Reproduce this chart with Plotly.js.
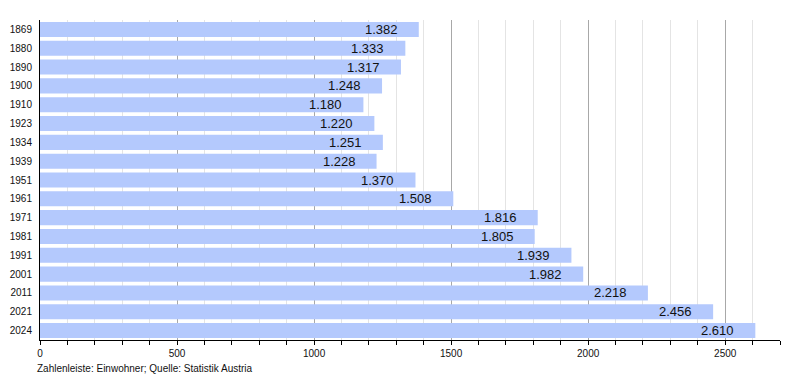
<!DOCTYPE html>
<html><head><meta charset="utf-8">
<script src="https://cdn.plot.ly/plotly-3.0.1.min.js"></script>
<style>body{margin:0;background:#fff}#c{width:800px;height:380px}</style>
</head><body><div id="c"></div>
<script>
const years = ["1869","1880","1890","1900","1910","1923","1934","1939","1951","1961","1971","1981","1991","2001","2011","2021","2024"];
const population = [1382,1333,1317,1248,1180,1220,1251,1228,1370,1508,1816,1805,1939,1982,2218,2456,2610];
const footer = "Zahlenleiste: Einwohner; Quelle: Statistik Austria";

const fmt = v => v.toLocaleString('de-DE');
const annotations = years.map((y,i)=>({
  x: population[i], y: i, xref:'x', yref:'y', text: fmt(population[i]),
  showarrow:false, xanchor:'right', xshift:-19, font:{size:13,color:'#111'}
}));
annotations.push({xref:'paper', yref:'paper', x:-0.007, y:-0.09, xanchor:'left', yanchor:'middle',
  text: footer, showarrow:false, font:{size:10,color:'#111'}});

Plotly.newPlot('c',[{
  type:'bar', orientation:'h', x: population, y: years,
  marker:{color:'#b4c9fd', line:{width:0}}, hoverinfo:'none'
}],{
  width:800, height:380,
  margin:{l:40,r:20,t:20,b:40},
  paper_bgcolor:'#fff', plot_bgcolor:'#fff',
  font:{family:'Liberation Sans, Arial, sans-serif', color:'#111', size:10},
  bargap:0.2,
  showlegend:false,
  xaxis:{range:[0,2700], dtick:500, tick0:0, showgrid:true, gridcolor:'#a8a8a8', gridwidth:1,
    showline:true, linecolor:'#000', linewidth:1, ticks:'outside', ticklen:4, tickcolor:'#000',
    tickfont:{size:10}, zeroline:false, fixedrange:true,
    minor:{dtick:100, tick0:0, showgrid:true, gridcolor:'#e4e4e4', gridwidth:1, ticks:'outside', ticklen:4, tickcolor:'#000'}},
  yaxis:{type:'category', categoryorder:'array', categoryarray: years, range:[16.5,-0.5], autorange:false,
    showgrid:false, showline:true, linecolor:'#000', linewidth:1,
    ticks:'', tickfont:{size:10}, ticklabelstandoff:5, zeroline:false, fixedrange:true},
  annotations: annotations
},{staticPlot:true});
</script></body></html>
